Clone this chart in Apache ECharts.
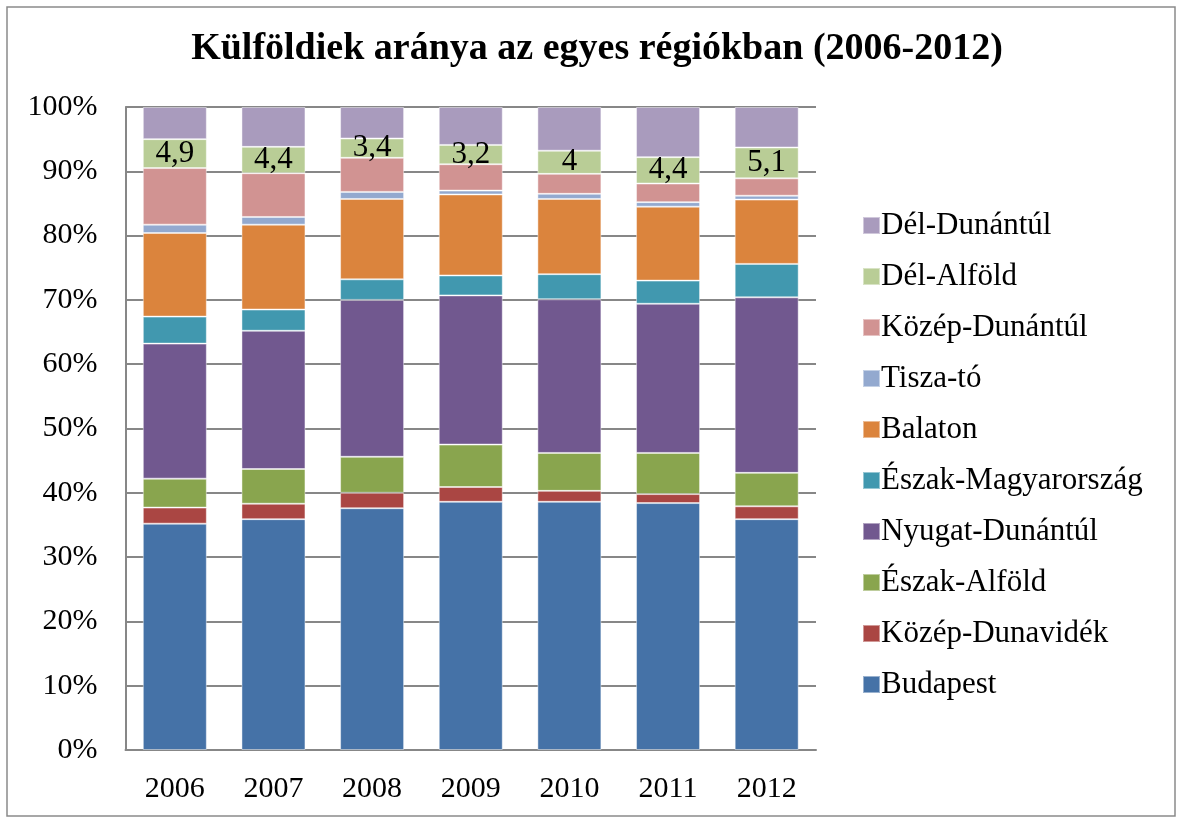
<!DOCTYPE html>
<html>
<head>
<meta charset="utf-8">
<script src="https://cdn.jsdelivr.net/npm/echarts@6/dist/echarts.min.js"></script>
<style>
  html, body { margin: 0; padding: 0; background: #fff; }
  #chart { width: 1178px; height: 817px; }
</style>
</head>
<body>
<div id="chart"></div>
<script>
// years on the x axis
var years = ['2006', '2007', '2008', '2009', '2010', '2011', '2012']

// shares (%), bottom of the stack first
var budapest = [35.2, 35.9, 37.6, 38.6, 38.6, 38.4, 35.9]
var kozepDunavidek = [2.5, 2.4, 2.4, 2.3, 1.7, 1.4, 2.0]
var eszakAlfold = [4.5, 5.4, 5.6, 6.6, 5.9, 6.4, 5.2]
var nyugatDunantul = [21.0, 21.5, 24.4, 23.2, 23.9, 23.2, 27.3]
var eszakMagyarorszag = [4.2, 3.3, 3.2, 3.1, 3.9, 3.6, 5.2]
var balaton = [13.0, 13.2, 12.5, 12.6, 11.7, 11.5, 10.0]
var tiszaTo = [1.3, 1.2, 1.1, 0.6, 0.8, 0.7, 0.6]
var kozepDunantul = [8.8, 6.8, 5.3, 4.1, 3.1, 2.9, 2.7]
var delAlfold = [4.5, 4.1, 3.0, 3.0, 3.6, 4.1, 4.8]
var delDunantul = [5.0, 6.2, 4.9, 5.9, 6.8, 7.8, 6.3]

// numbers printed on the Dél-Alföld segments
var delAlfoldLabels = [4.9, 4.4, 3.4, 3.2, 4, 4.4, 5.1]

var yTicks = [0, 10, 20, 30, 40, 50, 60, 70, 80, 90, 100]

var font = '"Liberation Serif", "DejaVu Serif", serif'

var seriesDefs = [
  {name: 'Budapest', data: budapest, color: '#4572A7'},
  {name: 'Közép-Dunavidék', data: kozepDunavidek, color: '#AA4643'},
  {name: 'Észak-Alföld', data: eszakAlfold, color: '#89A54E'},
  {name: 'Nyugat-Dunántúl', data: nyugatDunantul, color: '#71588F'},
  {name: 'Észak-Magyarország', data: eszakMagyarorszag, color: '#4198AF'},
  {name: 'Balaton', data: balaton, color: '#DB843D'},
  {name: 'Tisza-tó', data: tiszaTo, color: '#93A9CF'},
  {name: 'Közép-Dunántúl', data: kozepDunantul, color: '#D19392'},
  {name: 'Dél-Alföld', data: delAlfold, color: '#B9CD96'},
  {name: 'Dél-Dunántúl', data: delDunantul, color: '#A99BBD'},
]

var chart = echarts.init(document.getElementById('chart'))

var series = seriesDefs.map(function(s) {
  var item = {
    name: s.name,
    type: 'bar',
    stack: 'total',
    barWidth: 64,
    data: s.data,
    itemStyle: {
      color: s.color,
      borderColor: 'rgba(255,255,255,0.45)',
      borderWidth: 1
    },
    emphasis: {disabled: true}
  }
  if (s.name === 'Dél-Alföld') {
    item.label = {
      show: true,
      position: 'inside',
      color: '#000',
      fontFamily: font,
      fontSize: 31,
      formatter: function(p) {
        return String(delAlfoldLabels[p.dataIndex]).replace('.', ',')
      }
    }
  }
  return item
})

var option = {
  animation: false,
  color: seriesDefs.map(function(s) { return s.color }),
  title: {
    text: 'Külföldiek aránya az egyes régiókban (2006-2012)',
    left: 592,
    top: 25,
    textAlign: 'center',
    textStyle: {
      fontFamily: font,
      fontWeight: 'bold',
      fontSize: 38,
      color: '#000'
    }
  },
  legend: {
    orient: 'vertical',
    left: 857,
    top: 205,
    itemWidth: 17,
    itemHeight: 17,
    itemGap: 20,
    icon: 'rect',
    data: seriesDefs.map(function(s) { return s.name }).reverse(),
    textStyle: {
      fontFamily: font,
      fontSize: 31,
      lineHeight: 31,
      color: '#000',
      padding: [0, 0, 0, -4]
    }
  },
  grid: {
    left: 125.5,
    right: 362,
    top: 107,
    bottom: 67
  },
  xAxis: {
    type: 'category',
    data: years,
    axisLine: {lineStyle: {color: '#878787', width: 2}},
    axisTick: {show: false},
    axisLabel: {
      fontFamily: font,
      fontSize: 30,
      color: '#000',
      margin: 24
    }
  },
  yAxis: {
    type: 'value',
    min: yTicks[0],
    max: yTicks[yTicks.length - 1],
    interval: 10,
    axisLine: {show: true, lineStyle: {color: '#878787', width: 2}},
    axisTick: {show: false},
    splitLine: {lineStyle: {color: '#878787', width: 2}},
    axisLabel: {
      fontFamily: font,
      fontSize: 30,
      color: '#000',
      margin: 28,
      formatter: '{value}%'
    }
  },
  graphic: [{
    type: 'rect',
    shape: {x: 7, y: 7, width: 1168, height: 809},
    style: {fill: 'none', stroke: '#8a8a8a', lineWidth: 1.5},
    silent: true
  }],
  series: series
}

chart.setOption(option)
</script>
</body>
</html>
